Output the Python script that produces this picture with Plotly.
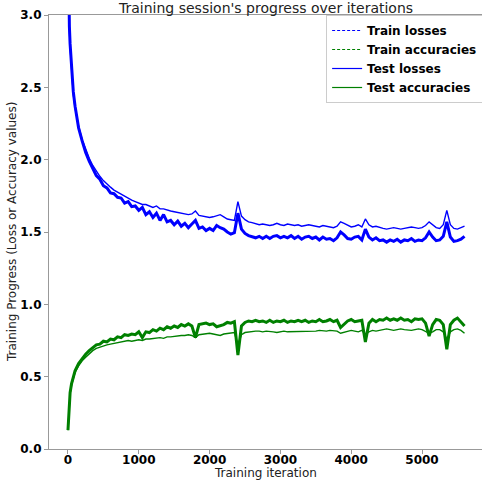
import plotly.graph_objects as go

iterations = [0, 10, 20, 30, 50, 75, 100] + list(range(150, 5601, 50))

test_losses = [3.6, 3.1, 2.9, 2.78, 2.62, 2.45, 2.36, 2.23, 2.14, 2.07, 2.01, 1.96, 1.92, 1.885, 1.855, 1.83, 1.81, 1.79, 1.775, 1.76, 1.745, 1.73, 1.72, 1.71,
               1.70, 1.69, 1.69, 1.68, 1.67, 1.68, 1.66, 1.66, 1.65, 1.645, 1.64, 1.635, 1.63, 1.625, 1.62, 1.625, 1.645, 1.615, 1.61, 1.605,
               1.60, 1.605, 1.61, 1.62, 1.605, 1.59, 1.585, 1.58, 1.71, 1.61, 1.585, 1.57, 1.565, 1.555, 1.55, 1.555, 1.55, 1.545, 1.55, 1.56,
               1.55, 1.545, 1.555, 1.55, 1.545, 1.55, 1.54, 1.545, 1.55, 1.545, 1.54, 1.535, 1.545, 1.54, 1.535, 1.53, 1.54, 1.57, 1.56, 1.545,
               1.535, 1.54, 1.55, 1.535, 1.59, 1.55, 1.535, 1.54, 1.53, 1.525, 1.52, 1.525, 1.53, 1.525, 1.52, 1.525, 1.53, 1.535, 1.53, 1.525,
               1.53, 1.545, 1.57, 1.55, 1.53, 1.525, 1.55, 1.65, 1.55, 1.525, 1.52, 1.53, 1.54]

train_losses = [3.7, 3.15, 2.92, 2.8, 2.63, 2.47, 2.37, 2.22, 2.13, 2.05, 1.99, 1.94, 1.89, 1.865, 1.82, 1.805, 1.77, 1.765, 1.74, 1.735, 1.70, 1.71, 1.675, 1.68,
                1.65, 1.67, 1.62, 1.64, 1.60, 1.63, 1.58, 1.62, 1.57, 1.58, 1.55, 1.575, 1.54, 1.56, 1.53, 1.555, 1.58, 1.525, 1.535, 1.51,
                1.525, 1.51, 1.545, 1.53, 1.52, 1.50, 1.485, 1.495, 1.63, 1.52, 1.49, 1.475, 1.47, 1.46, 1.47, 1.455, 1.47, 1.455, 1.47, 1.475,
                1.46, 1.47, 1.46, 1.475, 1.455, 1.47, 1.45, 1.465, 1.47, 1.455, 1.465, 1.445, 1.465, 1.45, 1.455, 1.44, 1.46, 1.50, 1.48, 1.455,
                1.45, 1.465, 1.47, 1.445, 1.52, 1.465, 1.445, 1.46, 1.44, 1.445, 1.43, 1.445, 1.435, 1.45, 1.43, 1.445, 1.44, 1.455, 1.435, 1.445,
                1.44, 1.46, 1.50, 1.465, 1.44, 1.445, 1.47, 1.57, 1.465, 1.435, 1.44, 1.45, 1.47]

test_accuracies = [0.13, 0.25, 0.33, 0.38, 0.44, 0.49, 0.53, 0.575, 0.61, 0.635, 0.66, 0.68, 0.695, 0.705, 0.715, 0.72, 0.725, 0.73, 0.735, 0.74, 0.745, 0.75, 0.745, 0.75,
                   0.755, 0.75, 0.76, 0.76, 0.765, 0.765, 0.77, 0.765, 0.775, 0.775, 0.78, 0.78, 0.785, 0.785, 0.79, 0.785, 0.77, 0.79, 0.795, 0.795,
                   0.80, 0.795, 0.79, 0.785, 0.795, 0.80, 0.805, 0.805, 0.72, 0.79, 0.805, 0.81, 0.81, 0.815, 0.815, 0.81, 0.815, 0.815, 0.81, 0.805,
                   0.81, 0.815, 0.81, 0.81, 0.815, 0.81, 0.815, 0.815, 0.81, 0.815, 0.815, 0.82, 0.815, 0.815, 0.82, 0.82, 0.815, 0.80, 0.805, 0.815,
                   0.82, 0.815, 0.81, 0.82, 0.79, 0.81, 0.82, 0.815, 0.82, 0.825, 0.83, 0.825, 0.82, 0.825, 0.83, 0.825, 0.82, 0.82, 0.825, 0.83,
                   0.825, 0.815, 0.80, 0.81, 0.825, 0.825, 0.81, 0.76, 0.81, 0.825, 0.83, 0.82, 0.80]

train_accuracies = [0.13, 0.26, 0.34, 0.39, 0.45, 0.50, 0.54, 0.59, 0.625, 0.655, 0.68, 0.70, 0.72, 0.725, 0.745, 0.74, 0.76, 0.755, 0.775, 0.77, 0.79, 0.785, 0.795, 0.79,
                    0.81, 0.77, 0.81, 0.805, 0.825, 0.815, 0.835, 0.825, 0.845, 0.835, 0.85, 0.84, 0.86, 0.85, 0.865, 0.85, 0.77, 0.86, 0.865, 0.87,
                    0.86, 0.865, 0.845, 0.85, 0.86, 0.875, 0.87, 0.88, 0.65, 0.85, 0.875, 0.885, 0.88, 0.89, 0.88, 0.885, 0.875, 0.89, 0.875, 0.885,
                    0.88, 0.89, 0.875, 0.885, 0.88, 0.89, 0.88, 0.89, 0.875, 0.885, 0.88, 0.895, 0.88, 0.885, 0.895, 0.88, 0.89, 0.84, 0.86, 0.885,
                    0.895, 0.88, 0.885, 0.89, 0.74, 0.87, 0.895, 0.88, 0.895, 0.89, 0.905, 0.89, 0.9, 0.89, 0.905, 0.89, 0.895, 0.88, 0.9, 0.895,
                    0.9, 0.87, 0.78, 0.86, 0.895, 0.89, 0.86, 0.69, 0.86, 0.89, 0.905, 0.88, 0.85]

series_names = ["Train losses", "Train accuracies", "Test losses", "Test accuracies"]
x_ticks = [0, 1000, 2000, 3000, 4000, 5000]
y_ticks = [0.0, 0.5, 1.0, 1.5, 2.0, 2.5, 3.0]

BLUE = "#0000ff"
GREEN = "#008000"
FONT = "DejaVu Sans"

fig = go.Figure()

# drawn curves
fig.add_trace(go.Scatter(x=iterations, y=train_losses, mode="lines",
                         line=dict(color=BLUE, width=3.0), showlegend=False))
fig.add_trace(go.Scatter(x=iterations, y=train_accuracies, mode="lines",
                         line=dict(color=GREEN, width=3.0), showlegend=False))
fig.add_trace(go.Scatter(x=iterations, y=test_losses, mode="lines",
                         line=dict(color=BLUE, width=1.4), showlegend=False))
fig.add_trace(go.Scatter(x=iterations, y=test_accuracies, mode="lines",
                         line=dict(color=GREEN, width=1.4), showlegend=False))

# legend entries
for name, color, dash in zip(series_names, [BLUE, GREEN, BLUE, GREEN], ["3px,2px", "3px,2px", "solid", "solid"]):
    fig.add_trace(go.Scatter(x=[None], y=[None], mode="lines", name=name,
                             line=dict(color=color, width=1.2, dash=dash)))

fig.update_layout(
    width=482, height=482,
    margin=dict(l=49, r=0, t=15, b=33, autoexpand=False),
    paper_bgcolor="white", plot_bgcolor="white",
    font=dict(family=FONT, color="#222"),
    legend=dict(x=0.64, y=1.0, xanchor="left", yanchor="top",
                bgcolor="rgba(255,255,255,0.9)", bordercolor="#cccccc", borderwidth=1,
                font=dict(family=FONT, size=12, color="black", weight="bold"),
                tracegroupgap=0, itemwidth=30),
    xaxis=dict(range=[-268, 5847], tickvals=x_ticks, ticktext=[str(v) for v in x_ticks],
               showgrid=False, zeroline=False, showline=True, linecolor="#999", linewidth=1.2,
               mirror=True, ticks="outside", ticklen=4, tickcolor="#999", automargin=False,
               ticklabelstandoff=-5,
               tickfont=dict(family=FONT, size=12, color="black", weight="bold")),
    yaxis=dict(range=[0, 3.0], tickvals=y_ticks, ticktext=[f"{v:.1f}" for v in y_ticks],
               showgrid=False, zeroline=False, showline=True, linecolor="#999", linewidth=1.2,
               ticks="outside", ticklen=4, tickcolor="#999", automargin=False,
               tickfont=dict(family=FONT, size=12, color="black", weight="bold")),
    annotations=[
        dict(text="Training session's progress over iterations", xref="paper", yref="paper",
             x=0.5, y=1, xanchor="center", yanchor="bottom", yshift=-3, showarrow=False,
             font=dict(family=FONT, size=14, color="#222")),
        dict(text="Training iteration", xref="paper", yref="paper",
             x=0.5, y=0, xanchor="center", yanchor="top", yshift=-15, showarrow=False,
             font=dict(family=FONT, size=12, color="#222")),
        dict(text="Training Progress (Loss or Accuracy values)", xref="paper", yref="paper",
             x=0, y=0.5, xanchor="center", yanchor="middle", xshift=-37, textangle=-90,
             showarrow=False, font=dict(family=FONT, size=12, color="#222")),
    ],
)

fig.write_html("out.html", config={"displayModeBar": False},
               post_script="document.body.style.margin='0';document.body.style.overflow='hidden';")
